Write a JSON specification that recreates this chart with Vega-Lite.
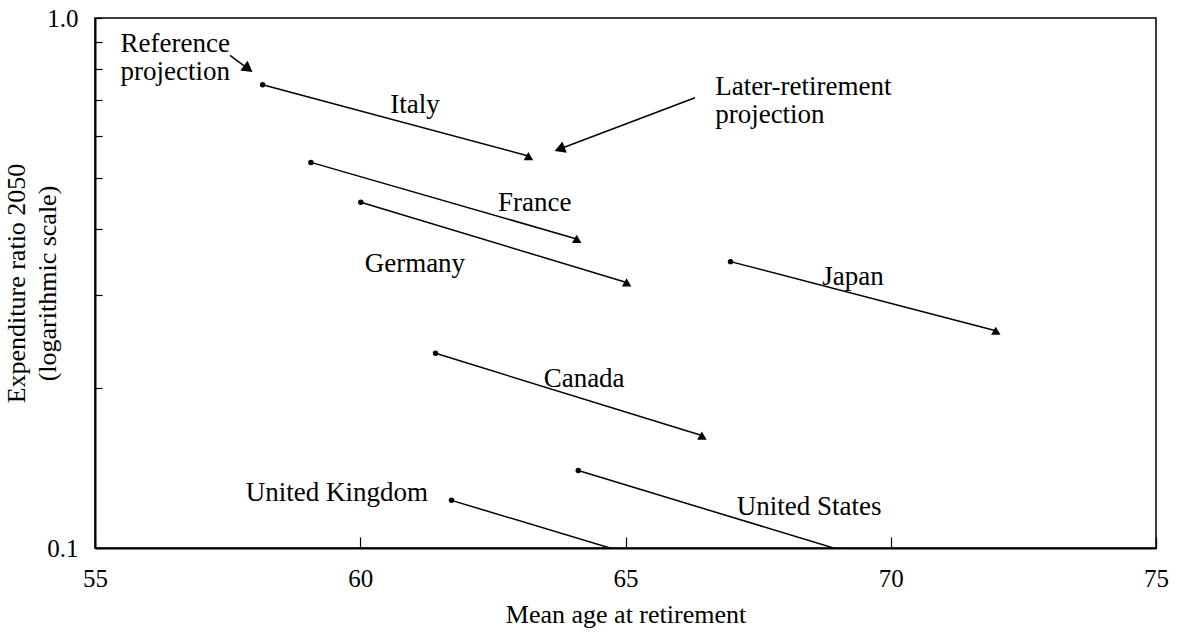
{
  "$schema": "https://vega.github.io/schema/vega-lite/v6.json",
  "autosize": "none",
  "width": 1061,
  "height": 530,
  "padding": {"left": 95, "top": 18, "right": 21, "bottom": 85},
  "background": "white",
  "datasets": {
    "series": [
      {"country": "Italy", "scenario": "Reference", "age": 58.16, "ratio": 0.748},
      {"country": "Italy", "scenario": "Later retirement", "age": 63.17, "ratio": 0.549},
      {"country": "France", "scenario": "Reference", "age": 59.07, "ratio": 0.534},
      {"country": "France", "scenario": "Later retirement", "age": 64.08, "ratio": 0.383},
      {"country": "Germany", "scenario": "Reference", "age": 60.01, "ratio": 0.449},
      {"country": "Germany", "scenario": "Later retirement", "age": 65.02, "ratio": 0.317},
      {"country": "Japan", "scenario": "Reference", "age": 66.98, "ratio": 0.347},
      {"country": "Japan", "scenario": "Later retirement", "age": 71.98, "ratio": 0.257},
      {"country": "Canada", "scenario": "Reference", "age": 61.42, "ratio": 0.233},
      {"country": "Canada", "scenario": "Later retirement", "age": 66.44, "ratio": 0.163},
      {"country": "United Kingdom", "scenario": "Reference", "age": 61.72, "ratio": 0.123},
      {"country": "United Kingdom", "scenario": "Later retirement", "age": 66.72, "ratio": 0.087},
      {"country": "United States", "scenario": "Reference", "age": 64.11, "ratio": 0.140},
      {"country": "United States", "scenario": "Later retirement", "age": 69.11, "ratio": 0.0987}
    ],
    "labels": [
      {"label": "Italy", "age": 61.03, "ratio": 0.684},
      {"label": "France", "age": 63.29, "ratio": 0.447},
      {"label": "Germany", "age": 61.03, "ratio": 0.344},
      {"label": "Japan", "age": 69.29, "ratio": 0.325},
      {"label": "Canada", "age": 64.22, "ratio": 0.208},
      {"label": "United Kingdom", "age": 59.56, "ratio": 0.1268},
      {"label": "United States", "age": 68.46, "ratio": 0.1193}
    ],
    "notes": [
      {"note": "Reference\nprojection", "age": 55.48, "ratio": 0.895},
      {"note": "Later-retirement\nprojection", "age": 66.69, "ratio": 0.740}
    ],
    "arrows": [
      {"which": "reference", "age": 57.545, "ratio": 0.850, "age2": 57.888, "ratio2": 0.802},
      {"which": "later", "age": 66.31, "ratio": 0.707, "age2": 63.758, "ratio2": 0.566}
    ]
  },
  "config": {
    "font": "Liberation Serif",
    "view": {"stroke": "black", "strokeWidth": 1.5},
    "axis": {
      "grid": false,
      "domainColor": "black",
      "domainWidth": 2,
      "tickColor": "black",
      "tickWidth": 1.2,
      "labelColor": "black",
      "labelFont": "Liberation Serif",
      "labelFontSize": 25,
      "titleColor": "black",
      "titleFont": "Liberation Serif",
      "titleFontSize": 26,
      "titleFontWeight": "normal"
    }
  },
  "encoding": {
    "x": {
      "field": "age",
      "type": "quantitative",
      "scale": {"domain": [55, 75], "nice": false, "zero": false},
      "axis": {
        "title": "Mean age at retirement",
        "values": [55, 60, 65, 70, 75],
        "tickSize": -11,
        "labelPadding": 29,
        "titlePadding": 10,
        "labelFlush": false
      }
    },
    "y": {
      "field": "ratio",
      "type": "quantitative",
      "scale": {"type": "log", "domain": [0.1, 1], "nice": false},
      "axis": {
        "title": ["Expenditure ratio 2050", "(logarithmic scale)"],
        "titleLineHeight": 31,
        "values": [0.1, 0.2, 0.3, 0.4, 0.5, 0.6, 0.7, 0.8, 0.9, 1],
        "labelExpr": "datum.value > 0.95 ? '1.0' : (datum.value < 0.105 ? '0.1' : '')",
        "tickSize": -7,
        "labelPadding": 24,
        "titlePadding": -14,
        "labelFlush": false
      }
    }
  },
  "layer": [
    {
      "data": {"name": "series"},
      "mark": {"type": "line", "color": "black", "strokeWidth": 1.5, "clip": true},
      "encoding": {
        "detail": {"field": "country"},
        "order": {"field": "age"}
      }
    },
    {
      "data": {"name": "series"},
      "transform": [{"filter": "datum.scenario === 'Reference'"}],
      "mark": {"type": "point", "shape": "circle", "filled": true, "color": "black", "size": 30, "opacity": 1, "clip": true}
    },
    {
      "data": {"name": "series"},
      "transform": [{"filter": "datum.scenario === 'Later retirement'"}],
      "mark": {"type": "point", "shape": "triangle-up", "filled": true, "color": "black", "size": 90, "opacity": 1, "clip": true}
    },
    {
      "data": {"name": "labels"},
      "mark": {"type": "text", "font": "Liberation Serif", "fontSize": 27, "color": "black", "align": "center", "baseline": "middle"},
      "encoding": {"text": {"field": "label"}}
    },
    {
      "data": {"name": "notes"},
      "mark": {"type": "text", "font": "Liberation Serif", "fontSize": 27, "color": "black", "align": "left", "baseline": "middle", "lineBreak": "\n", "lineHeight": 28},
      "encoding": {"text": {"field": "note"}}
    },
    {
      "data": {"name": "arrows"},
      "mark": {"type": "rule", "color": "black", "strokeWidth": 1.5},
      "encoding": {
        "x2": {"field": "age2"},
        "y2": {"field": "ratio2"}
      }
    },
    {
      "data": {"name": "arrows"},
      "transform": [{"filter": "datum.which === 'reference'"}],
      "mark": {"type": "point", "shape": "triangle-right", "filled": true, "color": "black", "opacity": 1, "size": 150, "angle": 36.5},
      "encoding": {
        "x": {"field": "age2", "type": "quantitative"},
        "y": {"field": "ratio2", "type": "quantitative"}
      }
    },
    {
      "data": {"name": "arrows"},
      "transform": [{"filter": "datum.which === 'later'"}],
      "mark": {"type": "point", "shape": "triangle-right", "filled": true, "color": "black", "opacity": 1, "size": 150, "angle": 159.2},
      "encoding": {
        "x": {"field": "age2", "type": "quantitative"},
        "y": {"field": "ratio2", "type": "quantitative"}
      }
    }
  ]
}
